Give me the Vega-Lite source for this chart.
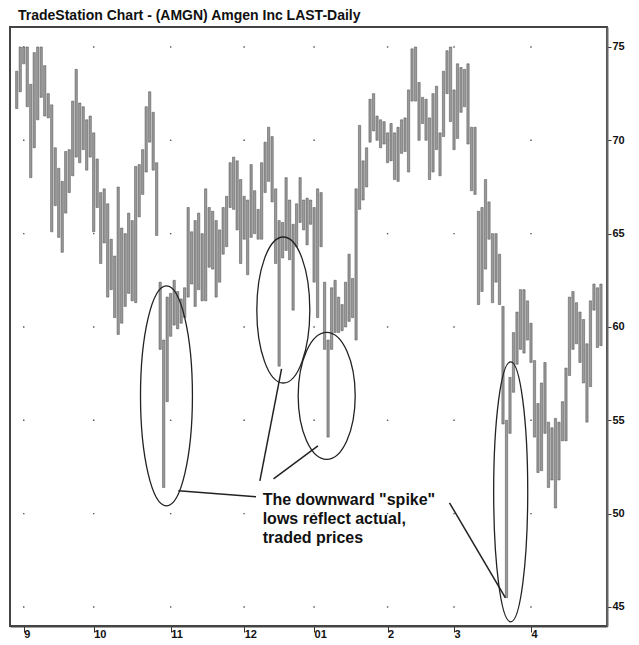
{
 "$schema": "https://vega.github.io/schema/vega-lite/v6.json",
 "width": 597, "height": 599,
 "autosize": "none",
 "padding": {"left": 10, "top": 27, "right": 32, "bottom": 19},
 "background": "white",
 "title": {"text": "TradeStation Chart - (AMGN) Amgen Inc LAST-Daily", "anchor": "start", "font": "Liberation Sans", "fontSize": 14, "fontWeight": "bold", "color": "#111", "dx": 8, "offset": 4},
 "config": {"view": {"stroke": "#444", "strokeWidth": 2}},
 "datasets": {
  "ohlc": [
   {"i":0,"h":73.7,"l":71.7},{"i":1,"h":75.0,"l":72.6},{"i":2,"h":75.0,"l":74.1},{"i":3,"h":75.0,"l":71.8},{"i":4,"h":73.0,"l":68.0},
   {"i":5,"h":74.7,"l":69.6},{"i":6,"h":75.0,"l":71.1},{"i":7,"h":75.0,"l":72.3},{"i":8,"h":74.0,"l":71.3},{"i":9,"h":72.5,"l":71.2},
   {"i":10,"h":71.9,"l":65.1},{"i":11,"h":69.6,"l":66.5},{"i":12,"h":68.5,"l":64.8},{"i":13,"h":67.8,"l":64.0},{"i":14,"h":69.4,"l":66.1},
   {"i":15,"h":69.5,"l":67.2},{"i":16,"h":72.1,"l":68.1},{"i":17,"h":73.8,"l":69.1},{"i":18,"h":72.0,"l":68.8},{"i":19,"h":71.8,"l":69.5},
   {"i":20,"h":71.1,"l":68.4},{"i":21,"h":71.3,"l":69.1},{"i":22,"h":70.4,"l":65.1},{"i":23,"h":69.0,"l":66.4},{"i":24,"h":67.2,"l":63.4},
   {"i":25,"h":67.4,"l":64.5},{"i":26,"h":66.6,"l":61.6},{"i":27,"h":64.7,"l":62.0},{"i":28,"h":63.8,"l":60.5},{"i":29,"h":67.5,"l":59.6},
   {"i":30,"h":65.3,"l":60.2},{"i":31,"h":65.0,"l":61.1},{"i":32,"h":66.1,"l":61.8},{"i":33,"h":65.7,"l":61.4},{"i":34,"h":68.6,"l":61.3},
   {"i":35,"h":68.7,"l":65.9},{"i":36,"h":69.5,"l":67.1},{"i":37,"h":71.8,"l":68.3},{"i":38,"h":72.6,"l":69.9},{"i":39,"h":71.5,"l":68.4},
   {"i":40,"h":68.8,"l":64.9},{"i":41,"h":62.4,"l":58.8},{"i":42,"h":59.3,"l":51.4},{"i":43,"h":61.6,"l":56.0},{"i":44,"h":61.8,"l":59.5},
   {"i":45,"h":62.5,"l":60.1},{"i":46,"h":61.9,"l":59.9},{"i":47,"h":61.5,"l":60.2},{"i":48,"h":62.1,"l":60.5},{"i":49,"h":66.4,"l":61.6},
   {"i":50,"h":65.1,"l":62.3},{"i":51,"h":65.7,"l":61.1},{"i":52,"h":66.1,"l":62.0},{"i":53,"h":65.0,"l":61.4},{"i":54,"h":67.4,"l":61.4},
   {"i":55,"h":66.4,"l":63.2},{"i":56,"h":66.2,"l":63.1},{"i":57,"h":65.7,"l":61.6},{"i":58,"h":65.2,"l":62.4},{"i":59,"h":66.4,"l":63.9},
   {"i":60,"h":67.0,"l":64.3},{"i":61,"h":68.8,"l":66.4},{"i":62,"h":69.1,"l":66.3},{"i":63,"h":68.9,"l":65.2},{"i":64,"h":67.9,"l":63.4},
   {"i":65,"h":67.0,"l":64.7},{"i":66,"h":66.8,"l":62.8},{"i":67,"h":68.7,"l":64.8},{"i":68,"h":67.3,"l":65.0},{"i":69,"h":66.3,"l":64.7},
   {"i":70,"h":68.8,"l":64.7},{"i":71,"h":69.9,"l":67.2},{"i":72,"h":70.7,"l":67.8},{"i":73,"h":70.2,"l":66.7},{"i":74,"h":67.4,"l":63.4},
   {"i":75,"h":65.7,"l":57.9},{"i":76,"h":65.6,"l":63.7},{"i":77,"h":68.0,"l":64.1},{"i":78,"h":66.8,"l":63.6},{"i":79,"h":65.5,"l":60.9},
   {"i":80,"h":66.6,"l":64.3},{"i":81,"h":68.0,"l":65.6},{"i":82,"h":66.8,"l":65.2},{"i":83,"h":66.9,"l":64.4},{"i":84,"h":66.8,"l":65.5},
   {"i":85,"h":66.4,"l":62.4},{"i":86,"h":67.4,"l":60.5},{"i":87,"h":67.2,"l":64.3},{"i":88,"h":62.4,"l":58.8},{"i":89,"h":59.3,"l":54.1},
   {"i":90,"h":62.1,"l":58.8},{"i":91,"h":62.5,"l":59.7},{"i":92,"h":61.6,"l":59.7},{"i":93,"h":61.2,"l":59.8},{"i":94,"h":62.4,"l":60.0},
   {"i":95,"h":63.9,"l":60.3},{"i":96,"h":62.6,"l":60.5},{"i":97,"h":67.4,"l":59.3},{"i":98,"h":70.8,"l":66.3},{"i":99,"h":68.9,"l":66.8},
   {"i":100,"h":69.6,"l":67.5},{"i":101,"h":72.2,"l":69.9},{"i":102,"h":72.5,"l":70.5},{"i":103,"h":71.3,"l":70.0},{"i":104,"h":71.1,"l":69.6},
   {"i":105,"h":71.0,"l":69.8},{"i":106,"h":70.4,"l":68.8},{"i":107,"h":70.9,"l":68.9},{"i":108,"h":70.4,"l":67.9},{"i":109,"h":70.7,"l":67.8},
   {"i":110,"h":71.1,"l":69.3},{"i":111,"h":71.2,"l":69.4},{"i":112,"h":72.7,"l":68.3},{"i":113,"h":74.9,"l":72.1},{"i":114,"h":75.0,"l":72.1},
   {"i":115,"h":73.1,"l":70.0},{"i":116,"h":72.3,"l":70.9},{"i":117,"h":72.2,"l":70.0},{"i":118,"h":71.2,"l":67.9},{"i":119,"h":72.5,"l":68.3},
   {"i":120,"h":72.9,"l":69.5},{"i":121,"h":70.4,"l":68.1},{"i":122,"h":73.7,"l":70.2},{"i":123,"h":74.8,"l":72.5},{"i":124,"h":75.0,"l":71.0},
   {"i":125,"h":72.7,"l":69.5},{"i":126,"h":74.1,"l":70.1},{"i":127,"h":73.9,"l":71.5},{"i":128,"h":73.8,"l":71.8},{"i":129,"h":74.1,"l":69.8},
   {"i":130,"h":70.7,"l":67.3},{"i":131,"h":70.7,"l":67.1},{"i":132,"h":66.2,"l":61.2},{"i":133,"h":66.4,"l":61.9},{"i":134,"h":67.9,"l":63.1},
   {"i":135,"h":66.7,"l":64.7},{"i":136,"h":65.0,"l":61.3},{"i":137,"h":65.0,"l":62.4},{"i":138,"h":63.9,"l":61.2},{"i":139,"h":61.1,"l":54.8},
   {"i":140,"h":55.0,"l":45.5},{"i":141,"h":57.3,"l":54.3},{"i":142,"h":59.7,"l":56.5},{"i":143,"h":60.8,"l":58.0},{"i":144,"h":62.0,"l":58.8},
   {"i":145,"h":62.0,"l":58.6},{"i":146,"h":61.4,"l":59.3},{"i":147,"h":60.2,"l":58.1},{"i":148,"h":58.2,"l":54.1},{"i":149,"h":55.9,"l":52.2},
   {"i":150,"h":57.0,"l":52.3},{"i":151,"h":58.1,"l":54.3},{"i":152,"h":54.9,"l":51.4},{"i":153,"h":54.6,"l":51.8},{"i":154,"h":55.1,"l":50.3},
   {"i":155,"h":54.9,"l":51.8},{"i":156,"h":56.0,"l":53.9},{"i":157,"h":57.8,"l":53.9},{"i":158,"h":61.6,"l":57.4},{"i":159,"h":61.9,"l":58.8},
   {"i":160,"h":61.3,"l":59.1},{"i":161,"h":60.8,"l":58.1},{"i":162,"h":60.4,"l":57.0},{"i":163,"h":59.1,"l":54.9},{"i":164,"h":61.4,"l":56.8},
   {"i":165,"h":62.3,"l":60.9},{"i":166,"h":62.1,"l":58.9},{"i":167,"h":62.3,"l":59.0}
  ],
  "dots": [
   {"m":2,"p":45},{"m":2,"p":50},{"m":2,"p":55},{"m":2,"p":60},{"m":2,"p":65},{"m":2,"p":70},{"m":2,"p":75},
   {"m":22,"p":45},{"m":22,"p":50},{"m":22,"p":55},{"m":22,"p":60},{"m":22,"p":65},{"m":22,"p":70},{"m":22,"p":75},
   {"m":44,"p":45},{"m":44,"p":50},{"m":44,"p":55},{"m":44,"p":60},{"m":44,"p":65},{"m":44,"p":70},{"m":44,"p":75},
   {"m":65,"p":45},{"m":65,"p":50},{"m":65,"p":55},{"m":65,"p":60},{"m":65,"p":65},{"m":65,"p":70},{"m":65,"p":75},
   {"m":85,"p":45},{"m":85,"p":50},{"m":85,"p":55},{"m":85,"p":60},{"m":85,"p":65},{"m":85,"p":70},{"m":85,"p":75},
   {"m":106,"p":45},{"m":106,"p":50},{"m":106,"p":55},{"m":106,"p":60},{"m":106,"p":65},{"m":106,"p":70},{"m":106,"p":75},
   {"m":125,"p":45},{"m":125,"p":50},{"m":125,"p":55},{"m":125,"p":60},{"m":125,"p":65},{"m":125,"p":70},{"m":125,"p":75},
   {"m":147,"p":45},{"m":147,"p":50},{"m":147,"p":55},{"m":147,"p":60},{"m":147,"p":65},{"m":147,"p":70},{"m":147,"p":75}
  ],
  "links": [
   {"x1":46.2,"y1":51.22,"x2":68.4,"y2":50.9},
   {"x1":75.7,"y1":57.75,"x2":69.5,"y2":51.75},
   {"x1":86.1,"y1":53.63,"x2":73.4,"y2":51.86},
   {"x1":123.7,"y1":50.58,"x2":139.7,"y2":45.49}
  ],
  "notes": [
   {"x":70.3,"y":50.74,"t":"The downward \"spike\""},
   {"x":70.3,"y":49.72,"t":"lows reflect actual,"},
   {"x":70.3,"y":48.70,"t":"traded prices"}
  ]
 },
 "layer": [
  {
   "data": {"name": "dots"},
   "mark": {"type": "point", "shape": "square", "filled": true, "size": 2, "color": "#555", "opacity": 1},
   "encoding": {
    "x": {"field": "m", "type": "quantitative", "scale": {"domain": [-0.5, 167.3], "nice": false, "zero": false},
      "axis": {"orient": "bottom", "values": [2, 22, 44, 65, 85, 106, 125, 147], "title": null, "grid": false,
        "labelExpr": "datum.value==2?'9':datum.value==22?'10':datum.value==44?'11':datum.value==65?'12':datum.value==85?'01':datum.value==106?'2':datum.value==125?'3':'4'",
        "labelAlign": "left", "labelBaseline": "top", "labelPadding": -4, "labelDx": 2, "labelFont": "Liberation Sans", "labelFontWeight": "bold", "labelFontSize": 11, "labelColor": "#111",
        "tickSize": 6, "tickColor": "#333", "tickWidth": 1, "domainColor": "#444", "domainWidth": 2}},
    "y": {"field": "p", "type": "quantitative", "scale": {"domain": [43.98, 76.07], "nice": false, "zero": false},
      "axis": {"orient": "right", "values": [45, 50, 55, 60, 65, 70, 75], "title": null, "grid": false,
        "labelFont": "Liberation Sans", "labelFontWeight": "bold", "labelFontSize": 11, "labelColor": "#111", "labelPadding": 1,
        "tickSize": 4, "tickColor": "#333", "domainColor": "#666", "domainWidth": 2}}
   }
  },
  {
   "data": {"name": "ohlc"},
   "mark": {"type": "bar", "size": 2.3, "fill": "#9a9a9a", "stroke": "#4a4a4a", "strokeWidth": 0.5},
   "encoding": {
    "x": {"field": "i", "type": "quantitative"},
    "y": {"field": "l", "type": "quantitative"},
    "y2": {"field": "h"}
   }
  },
  {
   "data": {"values": [{"x": 42.8, "y": 56.31}]},
   "mark": {"type": "point", "shape": "M0,-1A0.236,1 0 1,1 0,1A0.236,1 0 1,1 0,-1Z", "size": 48400, "filled": false, "stroke": "#222", "strokeWidth": 1.3, "opacity": 1},
   "encoding": {"x": {"field": "x", "type": "quantitative"}, "y": {"field": "y", "type": "quantitative"}}
  },
  {
   "data": {"values": [{"x": 76.2, "y": 60.91}]},
   "mark": {"type": "point", "shape": "M0,-1A0.363,1 0 1,1 0,1A0.363,1 0 1,1 0,-1Z", "size": 21316, "filled": false, "stroke": "#222", "strokeWidth": 1.3, "opacity": 1},
   "encoding": {"x": {"field": "x", "type": "quantitative"}, "y": {"field": "y", "type": "quantitative"}}
  },
  {
   "data": {"values": [{"x": 88.6, "y": 56.31}]},
   "mark": {"type": "point", "shape": "M0,-1A0.449,1 0 1,1 0,1A0.449,1 0 1,1 0,-1Z", "size": 16129, "filled": false, "stroke": "#222", "strokeWidth": 1.3, "opacity": 1},
   "encoding": {"x": {"field": "x", "type": "quantitative"}, "y": {"field": "y", "type": "quantitative"}}
  },
  {
   "data": {"values": [{"x": 141.2, "y": 51.17}]},
   "mark": {"type": "point", "shape": "M0,-1A0.131,1 0 1,1 0,1A0.131,1 0 1,1 0,-1Z", "size": 67600, "filled": false, "stroke": "#222", "strokeWidth": 1.3, "opacity": 1},
   "encoding": {"x": {"field": "x", "type": "quantitative"}, "y": {"field": "y", "type": "quantitative"}}
  },
  {
   "data": {"name": "links"},
   "mark": {"type": "rule", "color": "#222", "strokeWidth": 1.5},
   "encoding": {"x": {"field": "x1", "type": "quantitative"}, "y": {"field": "y1", "type": "quantitative"}, "x2": {"field": "x2"}, "y2": {"field": "y2"}}
  },
  {
   "data": {"name": "notes"},
   "mark": {"type": "text", "align": "left", "baseline": "middle", "font": "Liberation Sans", "fontWeight": "bold", "fontSize": 16, "color": "#111"},
   "encoding": {"x": {"field": "x", "type": "quantitative"}, "y": {"field": "y", "type": "quantitative"}, "text": {"field": "t"}}
  }
 ]
}
